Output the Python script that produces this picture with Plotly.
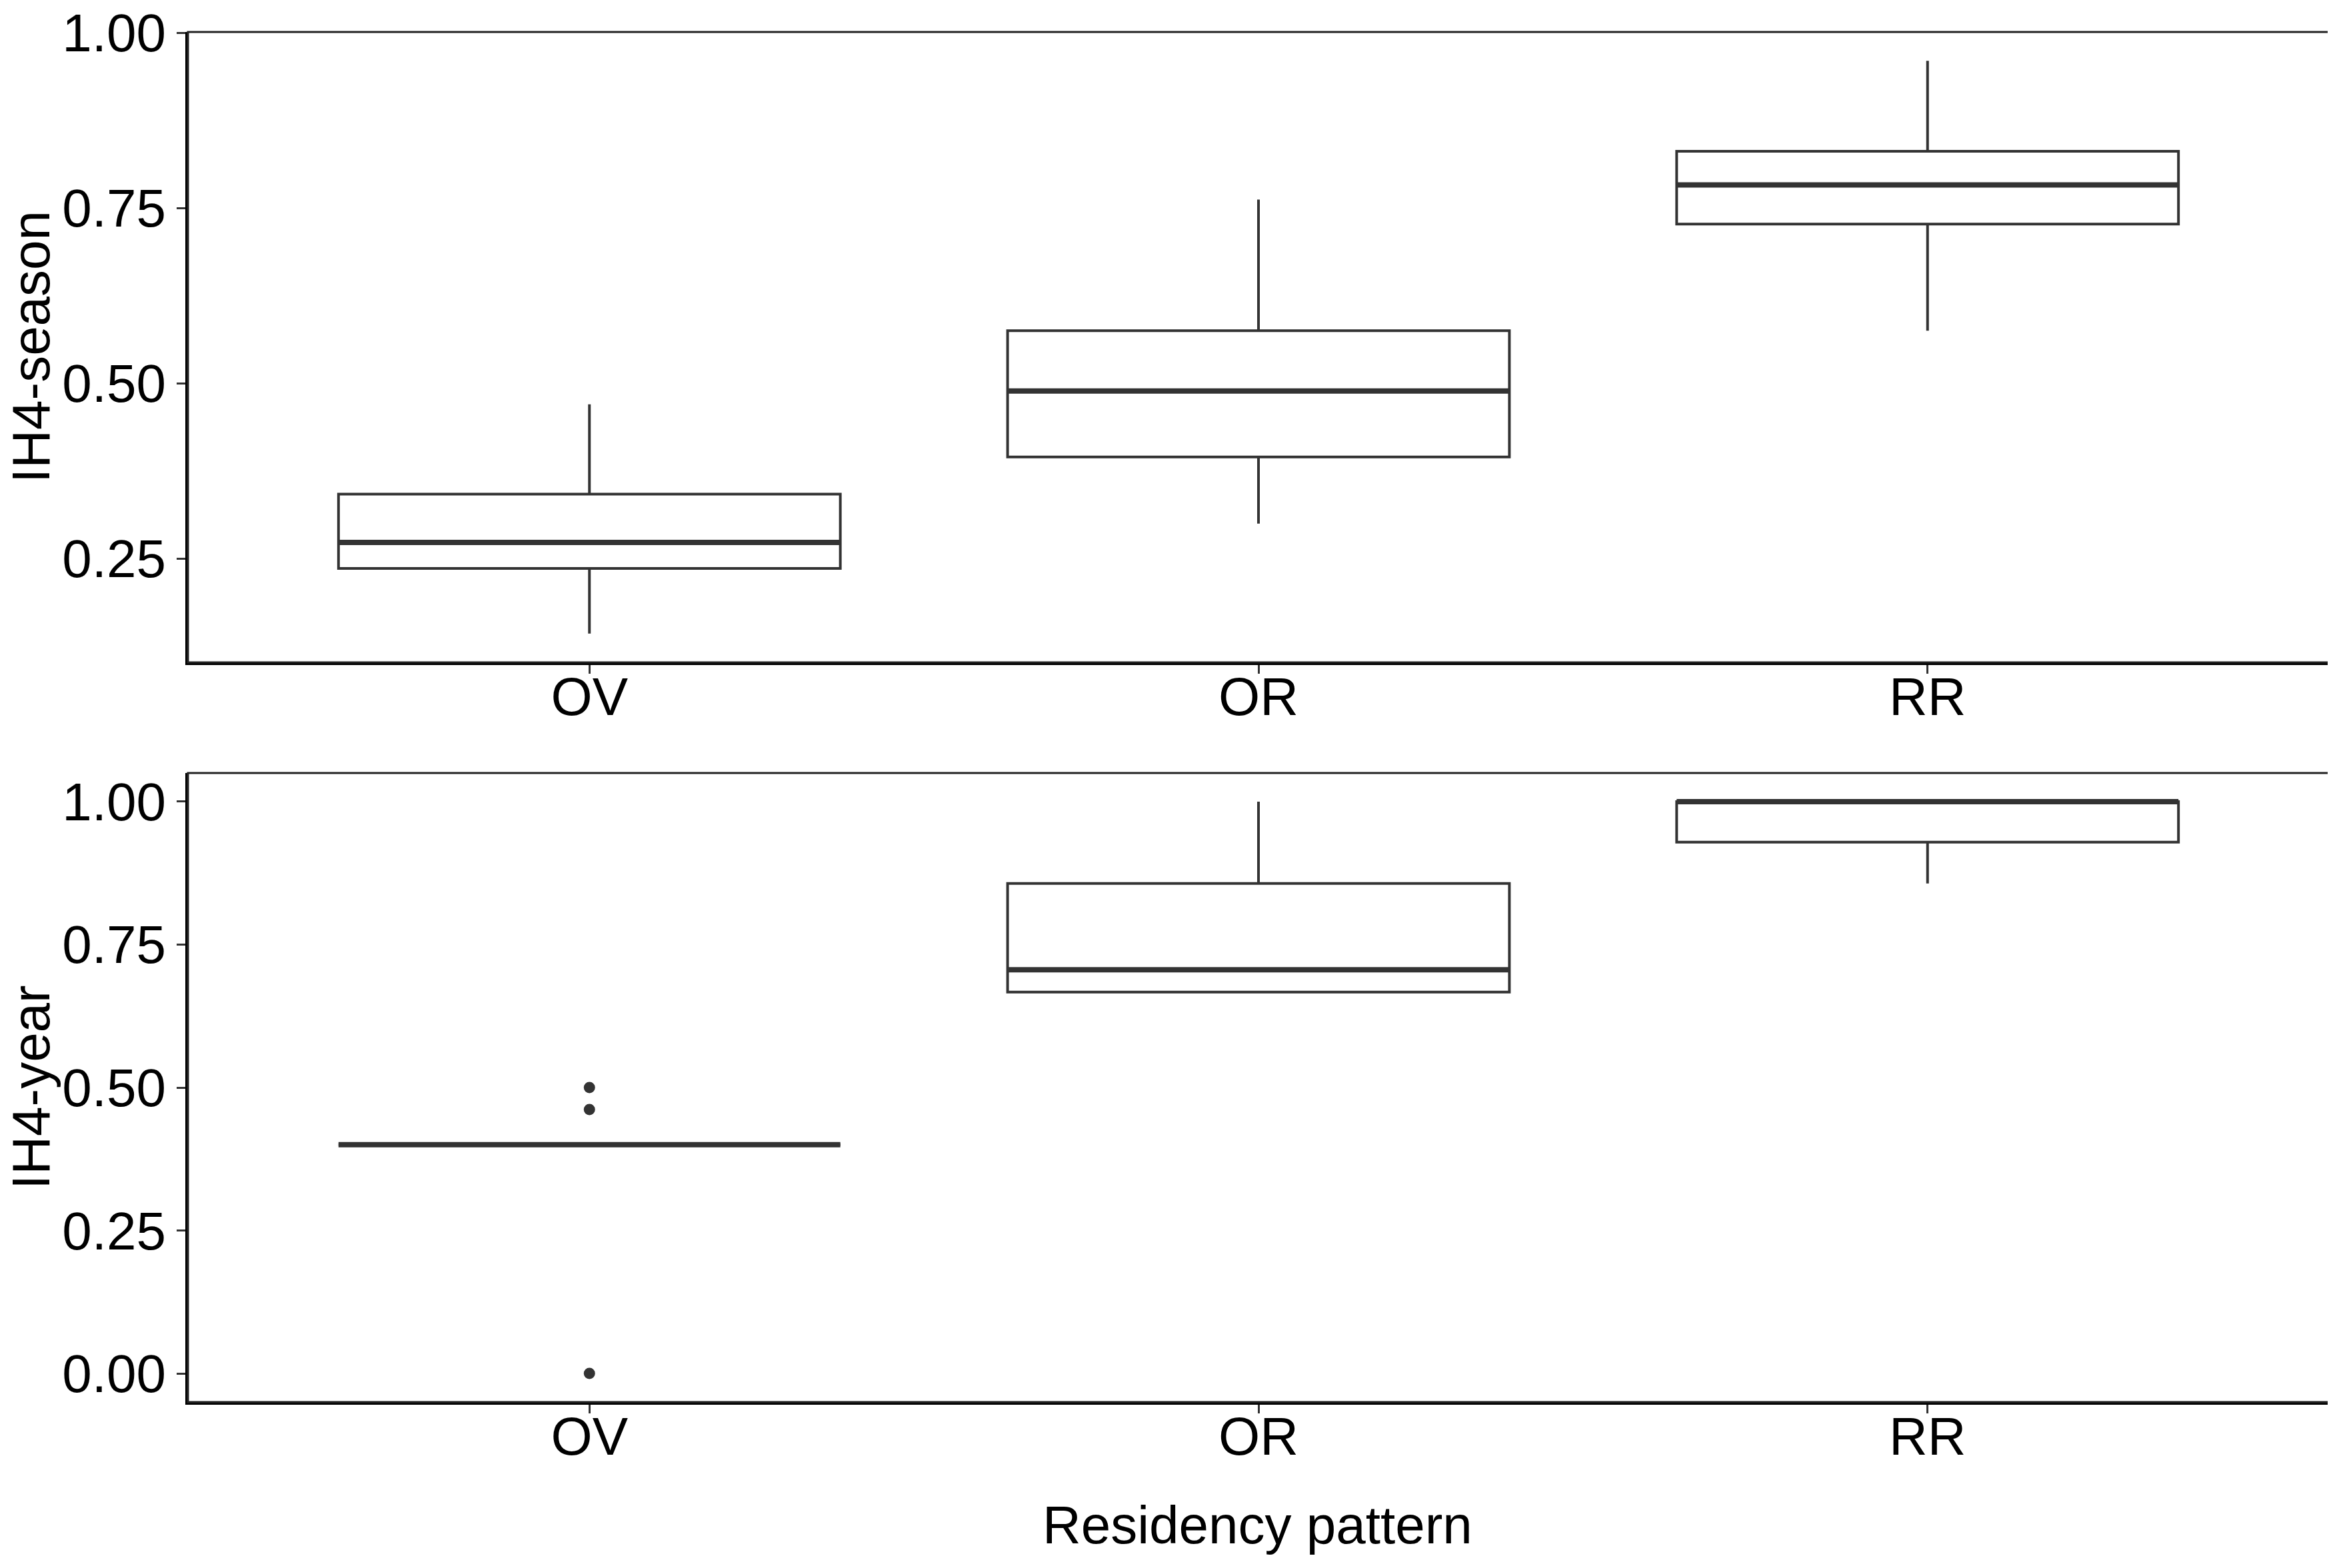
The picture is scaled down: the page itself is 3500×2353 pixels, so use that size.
import plotly.graph_objects as go

# categorias (padrão de residência)
categorias = ["OV", "OR", "RR"]

# IH4-season - estatísticas das caixas
season_q1 = [0.236, 0.395, 0.727]
season_mediana = [0.273, 0.489, 0.783]
season_q3 = [0.342, 0.575, 0.831]
season_min = [0.143, 0.300, 0.575]
season_max = [0.470, 0.762, 0.960]

# IH4-year - estatísticas das caixas
year_q1 = [0.40, 0.667, 0.929]
year_mediana = [0.40, 0.706, 1.00]
year_q3 = [0.40, 0.857, 1.00]
year_min = [0.40, 0.667, 0.857]
year_max = [0.40, 1.00, 1.00]

# pontos fora (outliers) do painel de baixo
outlier_cat = ["OV", "OV", "OV"]
outlier_y = [0.50, 0.4615, 0.0]

W, H = 3500, 2353
COR = "#333333"
FONTE = "Liberation Sans, Arial, sans-serif"
LARGURA = 0.75

pos = [i + 1 for i in range(len(categorias))]


def px_x(v):
    return v / W


def px_y(v):
    return 1 - v / H


fig = go.Figure()


def adiciona_painel(q1, med, q3, lo, hi, xa, ya):
    fig.add_trace(go.Box(
        x=pos, q1=q1, median=med, q3=q3, lowerfence=lo, upperfence=hi,
        width=LARGURA, whiskerwidth=0, fillcolor="white",
        line=dict(color=COR, width=4), boxpoints=False,
        xaxis=xa, yaxis=ya, showlegend=False, hoverinfo="skip"
    ))
    # mediana mais grossa, como no ggplot
    for p, m in zip(pos, med):
        fig.add_trace(go.Scatter(
            x=[p - LARGURA / 2, p + LARGURA / 2], y=[m, m], mode="lines",
            line=dict(color=COR, width=8), xaxis=xa, yaxis=ya,
            showlegend=False, hoverinfo="skip"
        ))


adiciona_painel(season_q1, season_mediana, season_q3, season_min, season_max, "x", "y")
adiciona_painel(year_q1, year_mediana, year_q3, year_min, year_max, "x2", "y2")

fig.add_trace(go.Scatter(
    x=[pos[categorias.index(c)] for c in outlier_cat], y=outlier_y, mode="markers",
    marker=dict(color=COR, size=17), xaxis="x2", yaxis="y2",
    showlegend=False, hoverinfo="skip"
))

eixo_x = dict(
    domain=[px_x(274), px_x(3486)], range=[0.4, 3.6], automargin=False,
    tickmode="array", tickvals=pos, ticktext=categorias,
    ticks="outside", ticklen=13, tickwidth=3, tickcolor=COR,
    showline=True, linecolor="black", linewidth=4,
    showgrid=False, zeroline=False,
    tickfont=dict(family=FONTE, size=80, color="black"),
    ticklabelstandoff=-34,
)
eixo_y = dict(
    ticks="outside", ticklen=13, tickwidth=3, tickcolor=COR, automargin=False,
    showline=True, linecolor="black", linewidth=4,
    showgrid=False, zeroline=False, tickformat=".2f",
    tickfont=dict(family=FONTE, size=80, color="black"),
    ticklabelstandoff=0, ticklabeloverflow="allow",
)

fig.update_layout(
    width=W, height=H,
    margin=dict(l=0, r=0, t=0, b=0, pad=0, autoexpand=False),
    paper_bgcolor="white", plot_bgcolor="white",
    xaxis=dict(eixo_x, anchor="y"),
    xaxis2=dict(eixo_x, anchor="y2"),
    yaxis=dict(eixo_y, anchor="x", domain=[px_y(986), px_y(40)],
               range=[0.102, 1.001], tickvals=[0.25, 0.50, 0.75, 1.00]),
    yaxis2=dict(eixo_y, anchor="x2", domain=[px_y(2096), px_y(1152)],
                range=[-0.05, 1.05], tickvals=[0, 0.25, 0.50, 0.75, 1.00]),
)

# moldura do painel
for xr, yr in [("x domain", "y domain"), ("x2 domain", "y2 domain")]:
    fig.add_shape(type="rect", xref=xr, yref=yr, x0=0, x1=1, y0=0, y1=1,
                  line=dict(color="#222222", width=3))

# títulos dos eixos
titulo_fonte = dict(family=FONTE, size=80, color="black")
for texto, x, y, ang in [("IH4-season", 38, 513, -90), ("IH4-year", 38, 1624, -90),
                         ("Residency pattern", 1878, 2280, 0)]:
    fig.add_annotation(text=texto, x=px_x(x), y=px_y(y), xref="paper", yref="paper",
                       xanchor="center", yanchor="middle", textangle=ang,
                       showarrow=False, font=titulo_fonte)

fig.write_html("out.html")
